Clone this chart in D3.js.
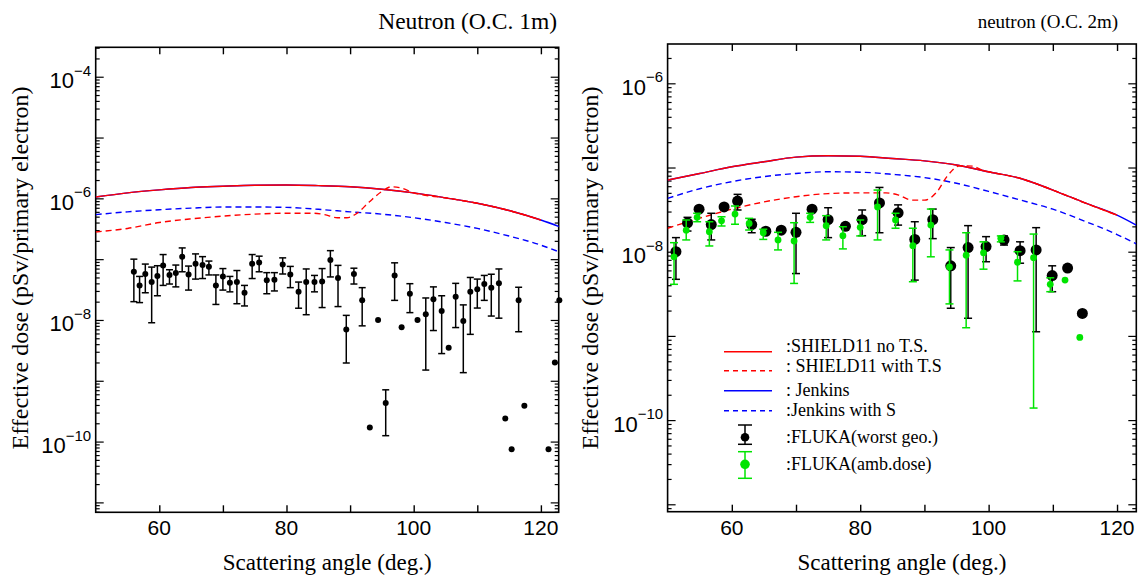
<!DOCTYPE html>
<html><head><meta charset="utf-8">
<script src="https://cdn.jsdelivr.net/npm/d3@7"></script>
<style>body{margin:0;background:#fff}svg{display:block}</style>
</head><body>
<svg id="c" width="1139" height="580"></svg>
<script>
// ---------------- DATA ----------------
const xTicks = [60, 70, 80, 90, 100, 110, 120];
const xTickLabels = [60, 80, 100, 120];
const leftYLabelExps = [-10, -8, -6, -4];
const rightYLabelExps = [-10, -8, -6];

// Left panel: Neutron (O.C. 1m)
const leftAngle = [56.0,56.9,57.8,58.8,59.7,60.6,61.6,62.6,63.6,64.6,65.7,66.8,67.8,68.9,70.0,71.1,72.2,73.4,74.6,75.7,76.9,78.1,79.4,80.6,81.9,83.1,84.4,85.6,86.9,88.1,89.4,90.6,91.9,93.1,94.4,95.6,97.0,98.1,99.4,100.6,101.9,103.1,104.4,105.5,106.6,107.8,108.9,110.0,111.1,112.2,113.4,114.4,115.4,116.5,117.4,121.2,122.2,122.9];
const leftDose = [6.2e-8,3.7e-8,5.7e-8,4.2e-8,5.3e-8,7.9e-8,5.5e-8,5.9e-8,1.1e-7,5.6e-8,8.4e-8,8.0e-8,7.5e-8,3.7e-8,5.2e-8,4.1e-8,4.2e-8,2.8e-8,8.4e-8,8.8e-8,4.5e-8,4.6e-8,8.2e-8,5.6e-8,2.9e-8,4.2e-8,4.2e-8,4.3e-8,9.7e-8,4.9e-8,7.0e-9,5.7e-8,2.1e-8,1.7e-10,1.0e-8,4.3e-10,5.4e-8,7.6e-9,2.7e-8,1.0e-8,1.24e-8,2.2e-8,1.4e-8,3.5e-9,2.4e-8,9.6e-9,2.9e-8,3.2e-8,3.9e-8,3.4e-8,4.0e-8,2.4e-10,7.5e-11,2.1e-8,3.9e-10,7.5e-11,2.0e-9,2.1e-8];
const leftErrHi = [1.0e-7,5.2e-8,8.3e-8,7.4e-8,7.8e-8,1.19e-7,6.7e-8,8.0e-8,1.53e-7,7.7e-8,1.22e-7,1.1e-7,9.3e-8,5.5e-8,7.0e-8,5.2e-8,6.5e-8,3.7e-8,1.19e-7,1.12e-7,6.0e-8,6.0e-8,1.05e-7,7.6e-8,4.2e-8,6.9e-8,5.4e-8,7.0e-8,1.38e-7,7.9e-8,1.19e-8,7.1e-8,3.4e-8,null,null,7.1e-10,8.7e-8,null,3.95e-8,null,2.3e-8,3.5e-8,2.5e-8,null,4.0e-8,1.77e-8,5.0e-8,4.7e-8,5.4e-8,5.65e-8,6.9e-8,null,null,3.45e-8,null,null,null,null];
const leftErrLo = [2.0e-8,1.93e-8,2.8e-8,9.0e-9,2.5e-8,3.7e-8,3.9e-8,3.5e-8,6.2e-8,3.1e-8,4.7e-8,4.8e-8,5.5e-8,1.8e-8,3.1e-8,2.9e-8,1.85e-8,1.7e-8,4.8e-8,6.2e-8,2.7e-8,3.0e-8,5.7e-8,3.4e-8,1.56e-8,1.22e-8,2.9e-8,1.6e-8,5.1e-8,1.66e-8,1.96e-9,3.9e-8,8.0e-9,null,null,1.25e-10,2.1e-8,null,1.32e-8,null,1.5e-9,6.7e-9,2.8e-9,null,7.5e-9,1.36e-9,5.8e-9,1.57e-8,2.1e-8,1.16e-8,1.07e-8,null,null,6.4e-9,null,null,null,null];

const curveAngle = [50,55,60,65,70,75,80,85,90,95,100,105,110,115,120,123];
const leftShieldNoTS = [1.05e-6,1.23e-6,1.38e-6,1.51e-6,1.58e-6,1.64e-6,1.66e-6,1.62e-6,1.55e-6,1.41e-6,1.23e-6,1.02e-6,8.3e-7,6.3e-7,4.4e-7,3.4e-7];
const leftJenkins = [1.05e-6,1.23e-6,1.38e-6,1.51e-6,1.58e-6,1.64e-6,1.66e-6,1.62e-6,1.55e-6,1.41e-6,1.23e-6,1.02e-6,8.3e-7,6.3e-7,4.4e-7,3.4e-7];
const leftJenkinsS = [5.4e-7,6.0e-7,6.5e-7,6.9e-7,7.2e-7,7.2e-7,7.1e-7,6.6e-7,6.0e-7,5.5e-7,4.8e-7,4.0e-7,3.2e-7,2.4e-7,1.7e-7,1.3e-7];
const leftTSAngle = [50,55,60,65,70,75,80,84,86,88,89.5,91,93,95,96.5,98,100,105,110,115,120];
const leftShieldTS = [2.8e-7,3.2e-7,4.0e-7,4.6e-7,5.1e-7,5.5e-7,5.7e-7,5.7e-7,5.4e-7,4.8e-7,4.8e-7,5.6e-7,8.7e-7,1.3e-6,1.55e-6,1.48e-6,1.23e-6,1.02e-6,8.3e-7,6.3e-7,4.4e-7];

// Right panel: neutron (O.C. 2m)
const rightShieldNoTS = [7.1e-8,8.5e-8,1.02e-7,1.17e-7,1.33e-7,1.38e-7,1.36e-7,1.28e-7,1.2e-7,1.07e-7,8.9e-8,7.4e-8,5.4e-8,3.8e-8,2.72e-8,2.07e-8];
const rightJenkins = [7.1e-8,8.5e-8,1.02e-7,1.17e-7,1.33e-7,1.38e-7,1.36e-7,1.28e-7,1.2e-7,1.07e-7,8.9e-8,7.4e-8,5.4e-8,3.8e-8,2.72e-8,2.07e-8];
const rightJenkinsS = [4.3e-8,5.6e-8,6.8e-8,7.8e-8,8.5e-8,8.9e-8,8.8e-8,8.3e-8,7.6e-8,6.5e-8,5.2e-8,4.1e-8,3.2e-8,2.3e-8,1.6e-8,1.24e-8];
const rightTSAngle = [50,55,60,65,70,75,80,84,86,88,90,92,93.5,95.5,97.5,99,100,105,110,115,120];
const rightShieldTS = [1.9e-8,2.5e-8,3.2e-8,3.9e-8,4.5e-8,4.9e-8,5.0e-8,5.0e-8,4.7e-8,4.1e-8,4.1e-8,5.2e-8,7.8e-8,1.05e-7,1.04e-7,9.3e-8,8.9e-8,7.4e-8,5.4e-8,3.8e-8,2.72e-8];

const blackAngle = [51.3,53.1,54.9,56.8,58.8,60.9,63.1,65.3,67.7,70.0,72.5,75.0,77.7,80.3,83.0,85.9,88.5,91.3,94.1,96.8,99.6,102.4,104.9,107.4,109.9,112.3,114.6];
const blackDose = [1.0e-8,2.2e-8,3.2e-8,2.1e-8,3.4e-8,4.0e-8,2.1e-8,1.75e-8,1.8e-8,1.7e-8,3.2e-8,2.4e-8,2.0e-8,2.4e-8,3.8e-8,2.9e-8,1.4e-8,2.4e-8,6.8e-9,1.12e-8,1.15e-8,1.38e-8,1.03e-8,1.05e-8,5.2e-9,6.4e-9,1.85e-9];
const blackErrHi = [1.47e-8,2.56e-8,null,2.86e-8,null,4.8e-8,2.43e-8,null,null,2.86e-8,null,3.33e-8,null,3.13e-8,5.8e-8,3.6e-8,2.27e-8,3.21e-8,1.12e-8,2.04e-8,1.51e-8,1.54e-8,1.31e-8,1.93e-8,6.8e-9,null,null];
const blackErrLo = [4.7e-9,1.76e-8,null,1.38e-8,null,3.13e-8,1.68e-8,null,null,5.5e-9,null,1.47e-8,null,1.55e-8,1.68e-8,2.07e-8,4.6e-9,1.43e-8,2.13e-9,1.62e-9,7.6e-9,1.2e-8,7.3e-9,1.12e-9,3.35e-9,null,null];

const greenAngle = [51.0,52.9,54.6,56.5,58.4,60.5,62.7,64.9,67.2,69.7,72.2,74.7,77.3,80.0,82.7,85.5,88.2,91.0,93.9,96.5,99.2,101.9,104.5,107.0,109.6,111.9,114.2];
const greenDose = [8.7e-9,1.8e-8,2.56e-8,1.73e-8,2.33e-8,2.8e-8,2.17e-8,1.68e-8,1.38e-8,1.34e-8,2.56e-8,2.04e-8,1.55e-8,1.95e-8,3.4e-8,2.38e-8,1.18e-8,2.07e-8,6.6e-9,9.1e-9,9.7e-9,1.44e-8,7.5e-9,8.5e-9,4.1e-9,4.6e-9,9.6e-10];
const greenErrHi = [1.28e-8,2.38e-8,2.86e-8,2.27e-8,2.6e-8,3.49e-8,2.49e-8,1.85e-8,1.7e-8,2.21e-8,2.86e-8,2.68e-8,1.98e-8,2.38e-8,5.4e-8,2.86e-8,1.9e-8,3.21e-8,1.05e-8,1.68e-8,1.31e-8,1.54e-8,1.0e-8,1.62e-8,4.9e-9,null,null];
const greenErrLo = [4.1e-9,1.38e-8,2.27e-8,1.17e-8,2.02e-8,2.12e-8,1.81e-8,1.4e-8,1.05e-8,4.2e-9,2.23e-8,1.38e-8,1.08e-8,1.54e-8,1.38e-8,1.9e-8,4.4e-9,8.7e-9,2.4e-9,1.25e-9,6.2e-9,1.31e-8,4.5e-9,1.39e-10,3.35e-9,null,null];

const legendLabels = [":SHIELD11 no T.S.", ": SHIELD11 with T.S", ": Jenkins", ":Jenkins with S", ":FLUKA(worst geo.)", ":FLUKA(amb.dose)"];

// ---------------- DRAWING ----------------
const svg = d3.select("#c");
const serif = "'Liberation Serif','Times New Roman',Times,serif";
const sans = "'Liberation Sans',Arial,Helvetica,sans-serif";
const RED = "#ff0000", BLUE = "#0000ff", GREEN = "#00e400";

function zipCurve(a, v) { return a.map((d, i) => [d, v[i]]); }

function panel(o) {
  const x = d3.scaleLinear().domain(o.xDomain).range([o.left, o.right]);
  const y = d3.scaleLog().domain(o.yDomain).range([o.bottom, o.top]);
  const g = svg.append("g");
  const clipId = "clip" + o.id;
  g.append("clipPath").attr("id", clipId).append("rect")
    .attr("x", o.left).attr("y", o.top).attr("width", o.right - o.left).attr("height", o.bottom - o.top);

  const xb = g.append("g").attr("transform", `translate(0,${o.bottom})`)
    .call(d3.axisBottom(x).tickValues(xTicks).tickSize(-7).tickFormat(""));
  xb.select(".domain").remove();
  xb.selectAll("line").attr("stroke", "#000").attr("stroke-width", 1.4);
  const xtop = g.append("g").attr("transform", `translate(0,${o.top})`)
    .call(d3.axisTop(x).tickValues(xTicks).tickSize(-7).tickFormat(""));
  xtop.select(".domain").remove();
  xtop.selectAll("line").attr("stroke", "#000").attr("stroke-width", 1.4);
  g.selectAll(".xl").data(xTickLabels).enter().append("text")
    .attr("x", d => x(d)).attr("y", o.bottom + 23)
    .attr("text-anchor", "middle").attr("font-family", sans).attr("font-size", 21)
    .text(d => d);

  const lo = Math.floor(Math.log10(o.yDomain[0])), hi = Math.ceil(Math.log10(o.yDomain[1]));
  const majors = [], minors = [];
  for (let e = lo; e <= hi; e++) {
    const m = Math.pow(10, e);
    if (m >= o.yDomain[0] && m <= o.yDomain[1]) majors.push(m);
    for (let k = 2; k <= 9; k++) {
      const v = k * m;
      if (v >= o.yDomain[0] && v <= o.yDomain[1]) minors.push(v);
    }
  }
  [[majors, 8], [minors, 4]].forEach(([vals, len]) => {
    const al = g.append("g").attr("transform", `translate(${o.left},0)`)
      .call(d3.axisLeft(y).tickValues(vals).tickSize(-len).tickFormat(""));
    al.select(".domain").remove();
    al.selectAll("line").attr("stroke", "#000").attr("stroke-width", 1.2);
    const ar = g.append("g").attr("transform", `translate(${o.right},0)`)
      .call(d3.axisRight(y).tickValues(vals).tickSize(-len).tickFormat(""));
    ar.select(".domain").remove();
    ar.selectAll("line").attr("stroke", "#000").attr("stroke-width", 1.2);
  });
  o.labelExps.forEach(e => {
    const t = g.append("text").attr("x", o.left - 4.5).attr("y", y(Math.pow(10, e)) + 11.5)
      .attr("text-anchor", "end").attr("font-family", sans).attr("font-size", 22);
    t.append("tspan").text("10");
    t.append("tspan").attr("dy", -12.5).attr("font-size", 15).text("\u2212" + Math.abs(e));
  });

  g.append("rect").attr("x", o.left).attr("y", o.top)
    .attr("width", o.right - o.left).attr("height", o.bottom - o.top)
    .attr("fill", "none").attr("stroke", "#000").attr("stroke-width", 1.6);

  const line = d3.line().x(d => x(d[0])).y(d => y(d[1])).curve(d3.curveMonotoneX);
  const cg = g.append("g").attr("clip-path", `url(#${clipId})`);
  const drawC = (a, v, col, dash) => cg.append("path").datum(zipCurve(a, v))
    .attr("d", line).attr("fill", "none").attr("stroke", col).attr("stroke-width", 1.4)
    .attr("stroke-dasharray", dash ? "6,4" : null);
  drawC(curveAngle, o.jenkins, BLUE, false);
  drawC(curveAngle.slice(0, 15), o.shieldNoTS.slice(0, 15), RED, false);
  drawC(curveAngle, o.jenkinsS, BLUE, true);
  drawC(o.tsAngle, o.shieldTS, RED, true);

  const drawPts = (ang, val, ehi, elo, col, r, cap) => {
    const pg = g.append("g");
    ang.forEach((a, i) => {
      const cx = x(a);
      if (ehi[i] != null && elo[i] != null) {
        const y1 = y(ehi[i]), y2 = y(elo[i]);
        pg.append("line").attr("x1", cx).attr("x2", cx).attr("y1", y1).attr("y2", y2)
          .attr("stroke", col).attr("stroke-width", 1.5);
        [y1, y2].forEach(yy => pg.append("line").attr("x1", cx - cap).attr("x2", cx + cap)
          .attr("y1", yy).attr("y2", yy).attr("stroke", col).attr("stroke-width", 1.5));
      }
      pg.append("circle").attr("cx", cx).attr("cy", y(val[i])).attr("r", r).attr("fill", col);
    });
  };
  o.series.forEach(s => drawPts(s.ang, s.val, s.hi, s.lo, s.col, s.r, s.cap));

  g.append("text").attr("x", o.titleX).attr("y", o.titleY).attr("text-anchor", "end")
    .attr("font-family", serif).attr("font-size", o.titleSize).text(o.title);
  g.append("text").attr("x", (o.left + o.right) / 2).attr("y", 570).attr("text-anchor", "middle")
    .attr("font-family", serif).attr("font-size", 23).text("Scattering angle (deg.)");
  g.append("text").attr("transform", `translate(${o.yLabelX},${o.yLabelY}) rotate(-90)`)
    .attr("text-anchor", "middle").attr("font-family", serif).attr("font-size", 24)
    .text("Effective dose (pSv/primary electron)");
  return { x, y, g };
}

panel({
  id: "L", left: 95.7, right: 558.7, top: 47.3, bottom: 512.3,
  xDomain: [50, 122.8], yDomain: [Math.pow(10, -11.163), Math.pow(10, -3.516)],
  labelExps: leftYLabelExps,
  jenkins: leftJenkins, shieldNoTS: leftShieldNoTS, jenkinsS: leftJenkinsS,
  tsAngle: leftTSAngle, shieldTS: leftShieldTS,
  series: [{ ang: leftAngle, val: leftDose, hi: leftErrHi, lo: leftErrLo, col: "#000", r: 3, cap: 3.5 }],
  title: "Neutron (O.C. 1m)", titleX: 557, titleY: 29, titleSize: 23.5,
  yLabelX: 28, yLabelY: 268
});

panel({
  id: "R", left: 667.6, right: 1136.3, top: 44, bottom: 511.7,
  xDomain: [50, 123], yDomain: [Math.pow(10, -11.088), Math.pow(10, -5.533)],
  labelExps: rightYLabelExps,
  jenkins: rightJenkins, shieldNoTS: rightShieldNoTS, jenkinsS: rightJenkinsS,
  tsAngle: rightTSAngle, shieldTS: rightShieldTS,
  series: [
    { ang: blackAngle, val: blackDose, hi: blackErrHi, lo: blackErrLo, col: "#000", r: 5.5, cap: 4 },
    { ang: greenAngle, val: greenDose, hi: greenErrHi, lo: greenErrLo, col: GREEN, r: 3.4, cap: 4 }
  ],
  title: "neutron (O.C. 2m)", titleX: 1118, titleY: 28, titleSize: 19,
  yLabelX: 598, yLabelY: 268
});

const lg = svg.append("g");
const lx1 = 724, lx2 = 772, tx = 786;
const rowsY = [351.7, 370.7, 390.7, 410.7];
const styles = [[RED, false], [RED, true], [BLUE, false], [BLUE, true]];
const textY = [351.7, 371.7, 396, 416];
styles.forEach((s, i) => {
  lg.append("line").attr("x1", lx1).attr("x2", lx2).attr("y1", rowsY[i]).attr("y2", rowsY[i])
    .attr("stroke", s[0]).attr("stroke-width", 1.4).attr("stroke-dasharray", s[1] ? "5,4" : null);
  lg.append("text").attr("x", tx).attr("y", textY[i]).attr("font-family", serif)
    .attr("font-size", 18).text(legendLabels[i]);
});
[[437.3, 425, 444.3, "#000", 4.3, 442.5], [464.3, 451.7, 478.3, GREEN, 4.8, 470]].forEach((m, j) => {
  const cx = 745;
  lg.append("line").attr("x1", cx).attr("x2", cx).attr("y1", m[1]).attr("y2", m[2]).attr("stroke", m[3]).attr("stroke-width", 1.5);
  [m[1], m[2]].forEach(yy => lg.append("line").attr("x1", cx - 7).attr("x2", cx + 7).attr("y1", yy).attr("y2", yy).attr("stroke", m[3]).attr("stroke-width", 1.5));
  lg.append("circle").attr("cx", cx).attr("cy", m[0]).attr("r", m[4]).attr("fill", m[3]);
  lg.append("text").attr("x", tx).attr("y", m[5]).attr("font-family", serif).attr("font-size", 18).text(legendLabels[4 + j]);
});
</script>
</body></html>
